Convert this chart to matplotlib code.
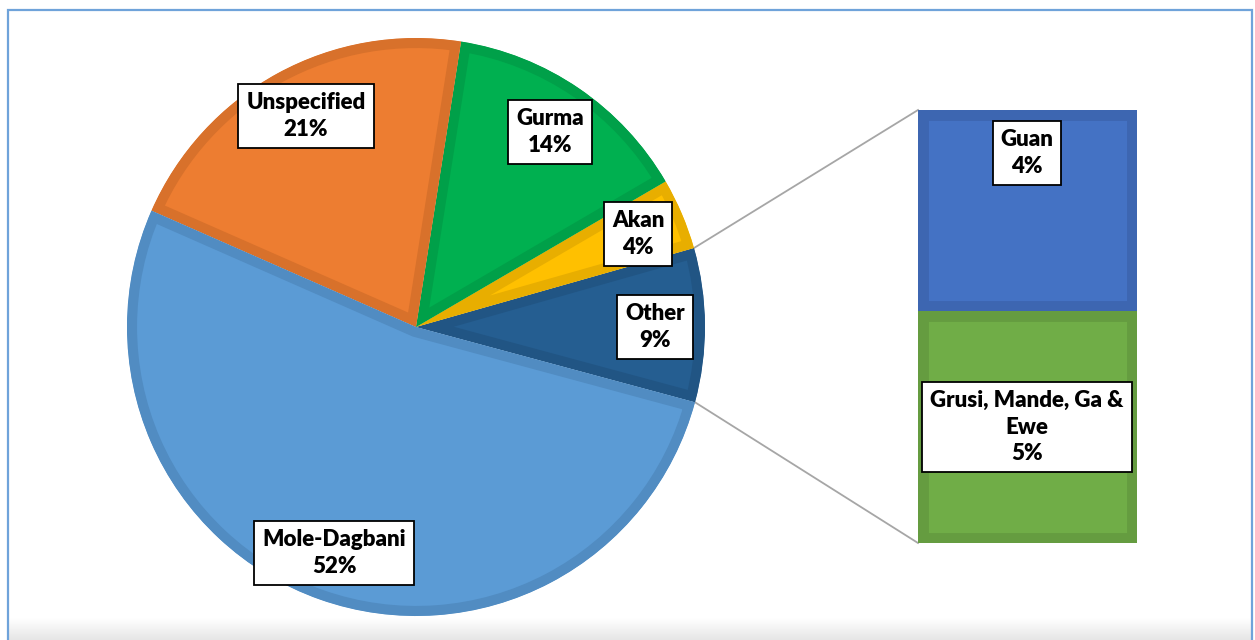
import numpy as np
import matplotlib
matplotlib.use("Agg")
import matplotlib.pyplot as plt
from matplotlib.patches import Rectangle

# ---- data ----
pie_labels = ["Other", "Akan", "Gurma", "Unspecified", "Mole-Dagbani"]
pie_values = [8.6, 4.0, 14.1, 20.9, 52.4]
bar_labels = ["Grusi, Mande, Ga &\nEwe", "Guan"]
bar_values = [4.6, 4.0]

pie_colors = ["#255E91", "#FFC000", "#00B050", "#ED7D31", "#5B9BD5"]
pie_edges = ["#215584", "#E8AE00", "#00A049", "#D8712B", "#518CC2"]
bar_colors = ["#70AD47", "#4472C4"]
bar_edges = ["#659C40", "#3D66B1"]

plt.rcParams["font.family"] = ["Lato", "DejaVu Sans"]

W, H = 1255, 640
fig = plt.figure(figsize=(W / 100, H / 100), dpi=100)
ax = fig.add_axes([0, 0, 1, 1])

cx, cy, R = 416, 313, 289
wedges, _ = ax.pie(pie_values, startangle=-15.1, counterclock=True,
                   center=(cx, cy), radius=R, colors=pie_colors, frame=True,
                   wedgeprops=dict(linewidth=14.5))
ax.set_xlim(0, W)
ax.set_ylim(0, H)
ax.set_aspect("auto")
ax.axis("off")
for w, ec in zip(wedges, pie_edges):
    w.set_edgecolor(ec)
    w.set_clip_on(True)
    w.set_clip_path(w)
    w.set_zorder(2)

# frame & shadow
grad = np.linspace(0, 1, 30).reshape(-1, 1)
ax.imshow(grad, extent=(8, 1252, 0, 22), cmap=matplotlib.colors.LinearSegmentedColormap.from_list(
    "s", ["#E6E6E6", "#FFFFFF"]), aspect="auto", zorder=0, origin="lower")
ax.add_patch(Rectangle((8, -5), 1244, 635, fill=False, edgecolor="#6FA3DA",
                       linewidth=1.6, zorder=5))

# bar of pie
bx0, by0, bw, bh = 918, 97, 219, 433
ax2 = fig.add_axes([bx0 / W, by0 / H, bw / W, bh / H])
bottom = 0
for v, c, ec in zip(bar_values, bar_colors, bar_edges):
    b = ax2.bar(0, v, bottom=bottom, width=1, color=c, edgecolor=ec, linewidth=15)[0]
    b.set_clip_path(b)
    bottom += v
ax2.set_xlim(-0.5, 0.5)
ax2.set_ylim(0, sum(bar_values))
ax2.axis("off")

# connector lines
w0 = wedges[0]
for ang, (tx, ty) in [(w0.theta2, (bx0, by0 + bh)), (w0.theta1, (bx0, by0))]:
    sx = cx + R * np.cos(np.radians(ang))
    sy = cy + R * np.sin(np.radians(ang))
    ax.plot([sx, tx], [sy, ty], color="#A6A6A6", linewidth=1.3, zorder=1)

# labels
bbox = dict(boxstyle="square,pad=0.36", facecolor="white", edgecolor="black", linewidth=1.3)
fs = 16
pie_label_pos = [(655, 313), (638, 406), (550, 508), (306, 524), (334, 87)]
for name, v, (x, y) in zip(pie_labels, pie_values, pie_label_pos):
    ax.text(x, y, f"{name}\n{v:.0f}%", ha="center", va="center", fontsize=fs,
            fontweight="heavy", linespacing=1.3, bbox=bbox, zorder=6)
bar_label_pos = [(1027, 213), (1027, 487)]
for name, v, (x, y) in zip(bar_labels, bar_values, bar_label_pos):
    ax2.text(x, y, f"{name}\n{v:.0f}%", ha="center", va="center", fontsize=fs,
             fontweight="heavy", linespacing=1.3, bbox=bbox, zorder=6,
             transform=ax.transData, clip_on=False)

fig.savefig("out.png", dpi=100, facecolor="white")
